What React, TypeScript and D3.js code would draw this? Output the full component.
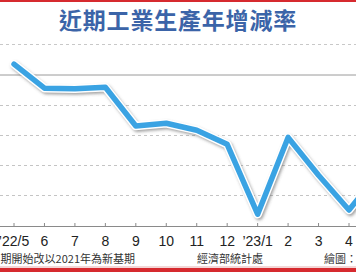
import React from "react";
import * as d3 from "d3";

const categories = ["’22/5", "6", "7", "8", "9", "10", "11", "12", "’23/1", "2", "3", "4", "5"];
const values = [1.8, -2.2, -2.3, -2.05, -8.5, -8.05, -9.2, -11.55, -23.2, -10.4, -16.7, -22.5, -16.2];
const gridValues = [-5, -10, -15, -20];
const titleText = "近期工業生產年增減率";
const noteLeft = "期開始改以2021年為新基期";
const noteSource = "經濟部統計處";
const noteRight = "繪圖：";

const W = 356;
const H = 272;
const FONT = "'Noto Sans CJK TC', 'Noto Sans', sans-serif";
const NUMFONT = "'Liberation Sans', Arial, sans-serif";

export default function App() {
  const x = d3.scaleLinear().domain([0, 11]).range([14, 349]);
  const y = d3.scaleLinear().domain([0, -25]).range([75, 225]);
  const axisY = 226;
  const line = d3
    .line<number>()
    .x((_, i) => x(i))
    .y((d) => y(d));
  const path = line(values) || "";

  return (
    <svg
      width={W}
      height={H}
      style={{ position: "absolute", left: 0, top: 0, background: "#fff" }}
      fontFamily={FONT}
    >
      <defs>
        <filter id="sh" x="-10%" y="-10%" width="120%" height="130%">
          <feGaussianBlur stdDeviation="1.5" />
        </filter>
        <clipPath id="clip">
          <rect x={0} y={0} width={W} height={H} />
        </clipPath>
      </defs>
      <rect x={0} y={0} width={W} height={2} fill="#d62a2f" />
      <rect x={0} y={268} width={W} height={4} fill="#d62a2f" />
      <rect x={0} y={266} width={W} height={2} fill="#f3d6d6" />
      <text
        x={178}
        y={29}
        textAnchor="middle"
        fontSize={23}
        fontWeight="bold"
        fill="#3b64a8"
        letterSpacing={0.8}
      >
        {titleText}
      </text>
      <line x1={0} x2={W} y1={44.5} y2={44.5} stroke="#c8c8c8" strokeDasharray="3,3" />
      <line x1={0} x2={W} y1={y(0)} y2={y(0)} stroke="#9a9a9a" strokeWidth={1} />
      {gridValues.map((g) => (
        <line
          key={g}
          x1={0}
          x2={W}
          y1={y(g) + 0.5}
          y2={y(g) + 0.5}
          stroke="#c4c4c4"
          strokeDasharray="3,3"
        />
      ))}
      <line x1={0} x2={W} y1={axisY + 0.5} y2={axisY + 0.5} stroke="#8a8a8a" />
      {categories.map((c, i) =>
        x(i) > W ? null : (
          <g key={c + i}>
            <line x1={x(i)} x2={x(i)} y1={axisY - 3} y2={axisY} stroke="#8a8a8a" />
            <text
              x={x(i)}
              y={246}
              textAnchor="middle"
              fontSize={14}
              fill="#222"
              fontFamily={NUMFONT}
            >
              {c}
            </text>
          </g>
        )
      )}
      <g clipPath="url(#clip)">
        <path
          d={path}
          fill="none"
          stroke="#555"
          strokeOpacity={0.55}
          strokeWidth={8}
          strokeLinejoin="round"
          strokeLinecap="round"
          transform="translate(1.5,2)"
          filter="url(#sh)"
        />
        <path
          d={path}
          fill="none"
          stroke="#fff"
          strokeWidth={8.5}
          strokeLinejoin="round"
          strokeLinecap="round"
        />
        <path
          d={path}
          fill="none"
          stroke="#3aa3e3"
          strokeWidth={5.5}
          strokeLinejoin="round"
          strokeLinecap="round"
        />
      </g>
      <text x={135} y={263} textAnchor="end" fontSize={11} fill="#333">
        {noteLeft}
      </text>
      <text x={230} y={263} textAnchor="middle" fontSize={11} fill="#333">
        {noteSource}
      </text>
      <text x={324} y={263} textAnchor="start" fontSize={11} fill="#333">
        {noteRight}
      </text>
    </svg>
  );
}
